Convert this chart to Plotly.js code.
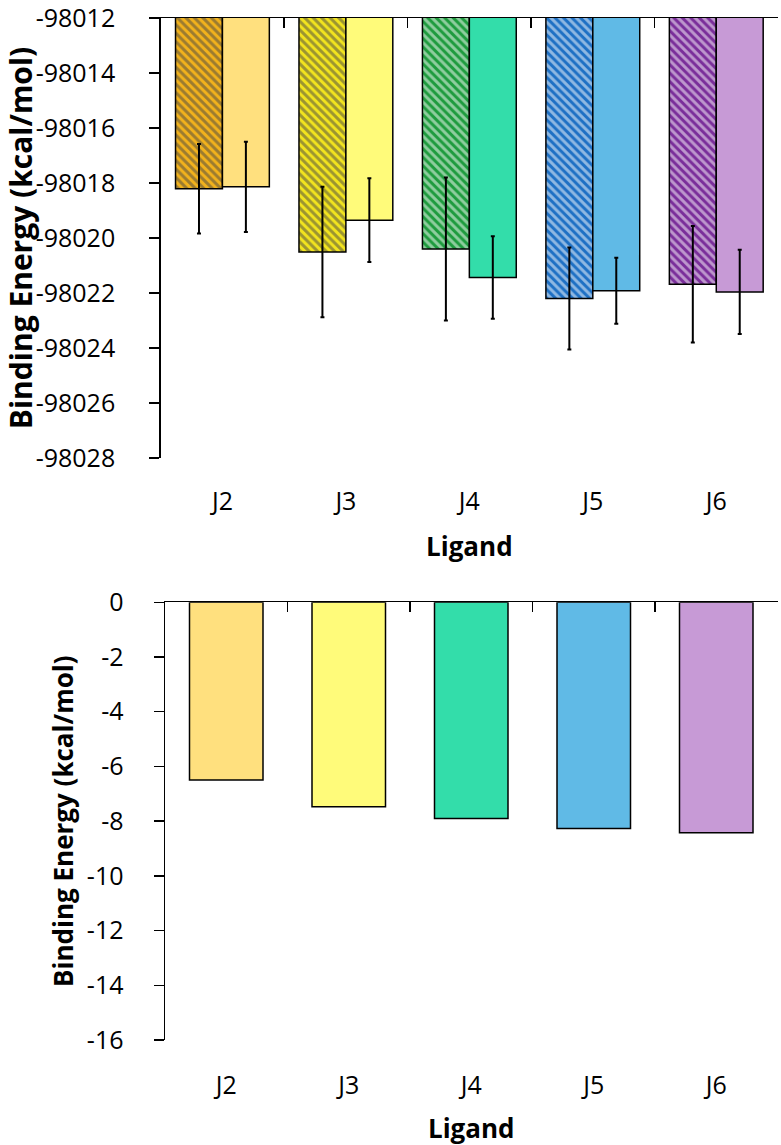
<!DOCTYPE html>
<html>
<head>
<meta charset="utf-8">
<script src="https://cdn.plot.ly/plotly-3.0.1.min.js"></script>
<style>
  html, body { margin: 0; padding: 0; background: #ffffff; }
  #chart { width: 781px; height: 1145px; }
</style>
</head>
<body>
<div id="chart"></div>
<script>
// ---------- data ----------
const ligands = ['J2', 'J3', 'J4', 'J5', 'J6'];

// top panel: two series per ligand (hatched / plain), with error bars
const energyHatched = [-98018.21, -98020.51, -98020.40, -98022.20, -98021.68];
const errorHatched  = [1.63, 2.37, 2.60, 1.85, 2.12];
const energyPlain   = [-98018.14, -98019.35, -98021.44, -98021.92, -98021.96];
const errorPlain    = [1.64, 1.52, 1.50, 1.20, 1.53];

// bottom panel: one value per ligand
const dockingEnergy = [-6.50, -7.47, -7.90, -8.27, -8.42];

// tick values
const topTicks = [-98012, -98014, -98016, -98018, -98020, -98022, -98024, -98026, -98028];
const bottomTicks = [0, -2, -4, -6, -8, -10, -12, -14, -16];

// colours
const hatchedColors = ['#F2B21C', '#F2E41E', '#1E9B3E', '#1E70C4', '#7A2E9A'];
const plainColors   = ['#FFE07E', '#FFFB7A', '#33DDAA', '#60BAE6', '#C79AD6'];

// ---------- helpers ----------
const FONT = 'Open Sans, Lato, sans-serif';
const catRange = [-0.5, ligands.length - 0.5];

const BAR_W = 0.38;
const traces = [
  {
    type: 'bar', x: ligands, y: energyHatched, xaxis: 'x', yaxis: 'y',
    width: BAR_W, offset: -BAR_W,
    marker: {
      color: hatchedColors,
      line: { color: '#000000', width: 1.5 },
      pattern: { shape: '\\', fgcolor: '#000000', bgcolor: hatchedColors, size: 6, solidity: 0.5, fillmode: 'overlay' }
    },
    error_y: { type: 'data', array: errorHatched, visible: true, color: '#000000', thickness: 2, width: 2 },
    showlegend: false, hoverinfo: 'x+y'
  },
  {
    type: 'bar', x: ligands, y: energyPlain, xaxis: 'x2', yaxis: 'y',
    width: BAR_W, offset: 0,
    marker: { color: plainColors, line: { color: '#000000', width: 1.5 } },
    error_y: { type: 'data', array: errorPlain, visible: true, color: '#000000', thickness: 2, width: 2 },
    showlegend: false, hoverinfo: 'x+y'
  },
  {
    type: 'bar', x: ligands, y: dockingEnergy, xaxis: 'x3', yaxis: 'y2', width: 0.6,
    marker: { color: plainColors, line: { color: '#000000', width: 1.5 } },
    showlegend: false, hoverinfo: 'x+y'
  }
];

const W = 781, H = 1145;
const px2x = p => p / W;
const px2y = p => 1 - p / H;

const tickFont = { family: FONT, size: 25, color: '#000000' };
const titleFont = (s) => ({ family: FONT, size: s, color: '#000000', weight: 700 });

const topDomX = [px2x(160.7), px2x(778)];
const botDomX = [px2x(165), px2x(777.5)];

const lineStyle = {
  ticks: 'inside', ticklen: 10, tickwidth: 1.5, tickcolor: '#000000',
  showline: true, linecolor: '#000000', linewidth: 1.5,
  showgrid: false, zeroline: false
};

const layout = {
  width: W, height: H,
  margin: { l: 0, r: 0, t: 0, b: 0 },
  paper_bgcolor: '#ffffff', plot_bgcolor: '#ffffff',
  barmode: 'overlay',
  showlegend: false,
  font: { family: FONT, color: '#000000' },

  // ---- top panel ----
  xaxis: {
    domain: topDomX, anchor: 'y', type: 'category', range: catRange,
    showline: false, ticks: '', showgrid: false, zeroline: false,
    tickfont: tickFont, ticklabelstandoff: 26,
    title: { text: 'Ligand', font: titleFont(26), standoff: 21 }
  },
  xaxis2: Object.assign({
    overlaying: 'x', anchor: 'y', side: 'top', type: 'category',
    range: catRange, tickson: 'boundaries', showticklabels: false
  }, lineStyle),
  yaxis: {
    domain: [px2y(458), px2y(18)], anchor: 'x',
    range: [topTicks[topTicks.length - 1], topTicks[0]],
    tickmode: 'array', tickvals: topTicks, ticktext: topTicks.map(String),
    ticks: 'outside', ticklen: 10, tickwidth: 1.5, tickcolor: '#000000',
    showline: true, linecolor: '#000000', linewidth: 1.5,
    showgrid: false, zeroline: false, ticklabeloverflow: 'allow',
    tickfont: tickFont, ticklabelstandoff: 29,
    title: { text: 'Binding Energy (kcal/mol)', font: titleFont(30), standoff: 0 }
  },

  // ---- bottom panel ----
  xaxis3: Object.assign({
    domain: botDomX, anchor: 'y2', side: 'top', type: 'category', range: catRange,
    tickson: 'boundaries',
    ticklabelposition: 'inside', ticklabelstandoff: 466, ticklabeloverflow: 'allow',
    tickfont: tickFont
  }, lineStyle),
  yaxis2: {
    domain: [px2y(1040), px2y(602.3)], anchor: 'x3',
    range: [bottomTicks[bottomTicks.length - 1], bottomTicks[0]],
    tickmode: 'array', tickvals: bottomTicks, ticktext: bottomTicks.map(String),
    ticks: 'outside', ticklen: 10, tickwidth: 1.5, tickcolor: '#000000',
    showline: true, linecolor: '#000000', linewidth: 1.5,
    showgrid: false, zeroline: false, ticklabeloverflow: 'allow',
    tickfont: tickFont, ticklabelstandoff: 25,
    title: { text: 'Binding Energy (kcal/mol)', font: titleFont(26), standoff: 6 }
  },

  annotations: [
    {
      text: 'Ligand', xref: 'x3 domain', x: 0.5, yref: 'paper', y: px2y(1128),
      xanchor: 'center', yanchor: 'middle', showarrow: false,
      font: titleFont(26)
    }
  ]
};

Plotly.newPlot('chart', traces, layout, { displayModeBar: false, staticPlot: true });
</script>
</body>
</html>
